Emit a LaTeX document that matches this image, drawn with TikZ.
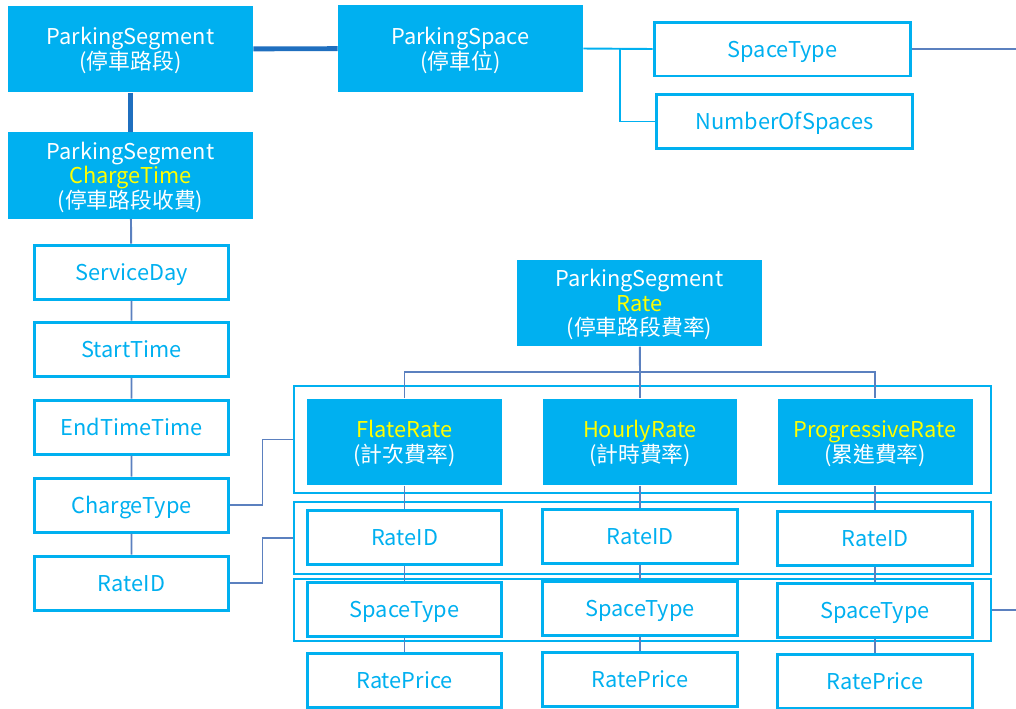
\documentclass[tikz,border=0pt]{standalone}
\usepackage{fontspec}
\setmainfont{Noto Sans CJK TC}
\usepackage{xcolor}
\usepackage{tikz}

\definecolor{tblcyan}{HTML}{00B0F0}
\definecolor{linkblue}{HTML}{5B80BF}
\definecolor{keyblue}{HTML}{1F6FBF}
\definecolor{hiyellow}{HTML}{FFFF00}

\tikzset{
  table/.style    ={rectangle, fill=tblcyan, text=white, align=center,
                    minimum width=4.9cm, minimum height=1.73cm, inner sep=0pt,
                    font=\fontsize{12.4}{14}\selectfont},
  subtable/.style ={table, minimum width=3.9cm},
  field/.style    ={rectangle, draw=tblcyan, line width=1.7pt, fill=white, text=tblcyan,
                    minimum width=3.9cm, minimum height=1.08cm, inner sep=0pt,
                    text height=11.6pt, text depth=2.1pt,
                    font=\fontsize{12.4}{14}\selectfont},
  group/.style    ={rectangle, draw=tblcyan, line width=0.8pt, minimum width=13.94cm, inner sep=0pt},
  link/.style     ={draw=linkblue, line width=1.1pt},
  cyanlink/.style ={draw=tblcyan, line width=1.1pt},
  keylink/.style  ={draw=keyblue, line width=2.8pt},
}
\newcommand{\hi}[1]{\textcolor{hiyellow}{#1}}
\newcommand{\tstrut}{\rule{0pt}{11.8pt}}

\begin{document}
\begin{tikzpicture}[x=0.02cm, y=-0.02cm]
        \useasboundingbox (0,0) rectangle (1016,708);                          %
        % parking segment / parking space
        \node[table]  (seg)    at (130.5,49)  {\tstrut ParkingSegment\\(停車路段)}; %
        \node[table]  (space)  at (460.5,48.5){\tstrut ParkingSpace\\(停車位)};     %
        \node[field, minimum width=5.14cm] (sptype) at (782.5,49)  {SpaceType};       %
        \node[field, minimum width=5.14cm] (nspace) at (784.5,121.5){NumberOfSpaces}; %
        \draw [keylink]  (seg) -- (space);                                     %
        \draw [cyanlink] (space.east) -- (sptype.west);                        %
        \coordinate (spbr)  at (620,49);                                       %
        \draw [cyanlink] (spbr) |- (nspace.west);                              %
        \coordinate (spout) at (1016,49);                                      %
        \draw [link]     (sptype.east) -- (spout);                             %
        % charge time
        \node[table]  (segct)  at (130.5,175.5) {\tstrut ParkingSegment\\\hi{ChargeTime}\\(停車路段收費)};
        \draw [keylink]  (seg) -- (segct);                                     %
        \node[field]  (sday)   at (131.5,272) {ServiceDay};                    %
        \node[field]  (stime)  at (131.5,349) {StartTime};                     %
        \node[field]  (etime)  at (131.5,427) {EndTimeTime};                   %
        \node[field]  (ctype)  at (131.5,505) {ChargeType};                    %
        \node[field]  (crid)   at (131.5,583) {RateID};                        %
        \draw [link] (segct) -- (sday) -- (stime) -- (etime) -- (ctype) -- (crid);
        % rate groups
        \node[group, minimum height=2.14cm] (grate)  at (642.5,439.5) {};      %
        \node[group, minimum height=1.44cm] (grid)   at (642.5,538)   {};      %
        \node[group, minimum height=1.24cm] (gspace) at (642.5,610)   {};      %
        \draw [link] (ctype.east) -- ++(32,0) |- (grate.west);                 %
        \draw [link] (crid.east)  -- ++(32,0) |- (grid.west);                  %
        \coordinate (gout) at (1016,610);                                      %
        \draw [link] (gspace.east) -- (gout);                                  %
        % segment rate
        \node[table]  (segr)   at (639.5,303) {\tstrut ParkingSegment\\\hi{Rate}\\(停車路段費率)};
        \node[subtable] (flat) at (404.5,442) {\tstrut\hi{FlateRate}\\(計次費率)};      %
        \node[subtable] (hour) at (640,442)   {\tstrut\hi{HourlyRate}\\(計時費率)};     %
        \node[subtable] (prog) at (875,442)   {\tstrut\hi{ProgressiveRate}\\(累進費率)};%
        \coordinate (rbus) at (640,372);                                       %
        \draw [link] (segr) -- (rbus);                                         %
        \draw [link] (flat.north) |- (rbus) -| (prog.north);                   %
        \draw [link] (rbus) -- (hour.north);                                   %
        % rate fields
        \node[field] (ridA) at (404.5,537.5) {RateID};                         %
        \node[field] (ridB) at (640,536)     {RateID};                         %
        \node[field] (ridC) at (875,538.5)   {RateID};                         %
        \node[field] (stA)  at (404.5,609)   {SpaceType};                      %
        \node[field] (stB)  at (640,608)     {SpaceType};                      %
        \node[field] (stC)  at (875,610)     {SpaceType};                      %
        \node[field] (rpA)  at (404.5,680)   {RatePrice};                      %
        \node[field] (rpB)  at (640,679)     {RatePrice};                      %
        \node[field] (rpC)  at (875,681)     {RatePrice};                      %
        \draw [link] (flat) -- (ridA) -- (stA) -- (rpA);                       %
        \draw [link] (hour) -- (ridB) -- (stB) -- (rpB);                       %
        \draw [link] (prog) -- (ridC) -- (stC) -- (rpC);                       %
\end{tikzpicture}
\end{document}
